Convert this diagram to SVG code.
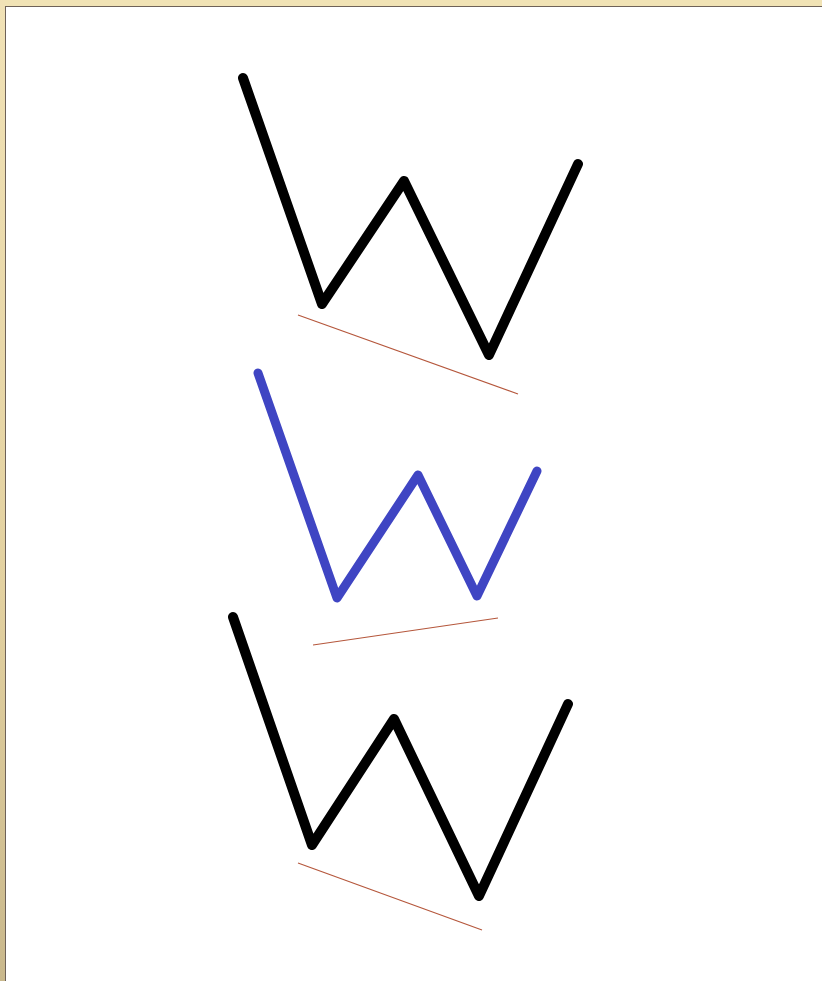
<svg xmlns="http://www.w3.org/2000/svg" width="822" height="981" viewBox="0 0 822 981">
<defs>
<linearGradient id="lb" x1="0" y1="0" x2="0" y2="1">
<stop offset="0" stop-color="#f1e2b6"/>
<stop offset="0.6" stop-color="#e3d1a0"/>
<stop offset="1" stop-color="#c9b88c"/>
</linearGradient>
<style>
.w{fill:none;stroke-width:10;stroke-linecap:round;stroke-linejoin:round}
.k{stroke:#000}
.b{stroke:#3f45c3;stroke-width:9}
.t{stroke:#b5573c;stroke-width:1.2}
</style>
</defs>
<rect x="0" y="0" width="822" height="981" fill="#fff"/>
<rect x="0" y="0" width="822" height="6" fill="#f1e3b5"/>
<rect x="0" y="0" width="5" height="981" fill="url(#lb)"/>
<line x1="5" y1="6.5" x2="822" y2="6.5" stroke="#6e6258" stroke-width="1"/>
<line x1="5.5" y1="6" x2="5.5" y2="981" stroke="#6e6258" stroke-width="1"/>
<g id="w1">
<polyline class="w k" points="243,78 322,304 404,181 489,355 578,164"/>
<line class="t" x1="298" y1="315" x2="518" y2="394"/>
</g>
<g id="w2">
<polyline class="w b" points="258,373 337,598 418,475 477,596 537,471"/>
<line class="t" x1="313" y1="645" x2="498" y2="618"/>
</g>
<g id="w3">
<polyline class="w k" points="233,617 312,845 394,719 479,896 568,704"/>
<line class="t" x1="298" y1="863" x2="482" y2="930"/>
</g>
</svg>
